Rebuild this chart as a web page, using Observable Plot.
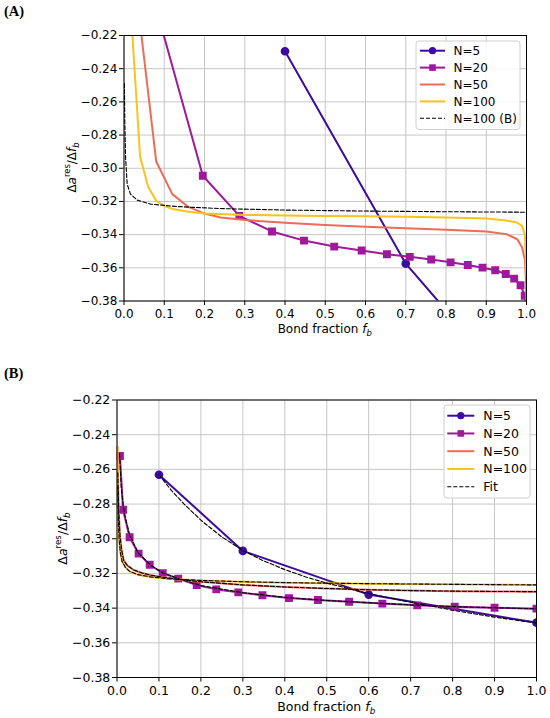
<!DOCTYPE html>
<html>
<head>
<meta charset="utf-8">
<script src="https://cdn.jsdelivr.net/npm/d3@7"></script>
<script src="https://cdn.jsdelivr.net/npm/@observablehq/plot@0.6"></script>
<style>
  html, body { margin: 0; padding: 0; background: white; }
  #wrap { position: relative; width: 550px; height: 718px; overflow: hidden; }
  #panelA { position: absolute; left: 0; top: 0; }
  #panelB { position: absolute; left: 0; top: 360px; }
</style>
</head>
<body>
<div id="wrap"><div id="panelA"></div><div id="panelB"></div></div>
<script>
// ---------- ticks ----------
const xTicks = [0, 0.1, 0.2, 0.3, 0.4, 0.5, 0.6, 0.7, 0.8, 0.9, 1.0];
const yTicks = [-0.22, -0.24, -0.26, -0.28, -0.30, -0.32, -0.34, -0.36, -0.38];

// ---------- colours ----------
const colN5 = "#3e0aa0", colN20 = "#a0189c", colN50 = "#ee6c55", colN100 = "#fcc21d";

// ---------- Panel A data ----------
const aN5x = [0.4, 0.7, 1.0];
const aN5y = [-0.2295, -0.3575, -0.4415];

const aN20x = [0.08, 0.1958, 0.2865, 0.3677, 0.4472, 0.5223, 0.5904, 0.6533, 0.71, 0.7633, 0.8114, 0.8541, 0.8908, 0.9223, 0.9485, 0.9694, 0.9852, 0.9956, 1.0];
const aN20y = [-0.2035, -0.3045, -0.3287, -0.3381, -0.3436, -0.3472, -0.3496, -0.3518, -0.3534, -0.3550, -0.3567, -0.3583, -0.3599, -0.3615, -0.3637, -0.3665, -0.3705, -0.3768, -0.3860];

const aN50x = [0.04, 0.08, 0.12, 0.16, 0.2, 0.24, 0.3, 0.4, 0.5, 0.6, 0.7, 0.8, 0.9, 0.95, 0.977, 0.989, 0.996, 0.999, 1.0];
const aN50y = [-0.2130, -0.2959, -0.3156, -0.3233, -0.3273, -0.3297, -0.3312, -0.3328, -0.3342, -0.3353, -0.3362, -0.3370, -0.3381, -0.3397, -0.3428, -0.3478, -0.3550, -0.3700, -0.4000];

const aN100x = [0.02, 0.04, 0.06, 0.08, 0.1, 0.12, 0.16, 0.2, 0.3, 0.4, 0.5, 0.6, 0.7, 0.8, 0.9, 0.95, 0.976, 0.989, 0.996, 1.0];
const aN100y = [-0.2165, -0.2931, -0.3112, -0.3196, -0.3228, -0.3245, -0.3262, -0.3272, -0.3281, -0.3285, -0.3288, -0.3290, -0.3293, -0.3297, -0.3303, -0.3315, -0.3327, -0.3347, -0.3400, -0.3650];

const aN100Bx = [0.001, 0.002, 0.004, 0.008, 0.016, 0.033, 0.066, 0.132, 0.24, 0.4, 0.6, 0.8, 1.0];
const aN100By = [-0.249, -0.272, -0.294, -0.3096, -0.3156, -0.3192, -0.3216, -0.3231, -0.3243, -0.3252, -0.3258, -0.3262, -0.3265];

// ---------- Panel B data ----------
const bN5x = [0.1, 0.3, 0.6, 1.0];
const bN5y = [-0.2631, -0.3070, -0.3322, -0.3484];

const bN20x = [0.007, 0.0145, 0.030, 0.0515, 0.078, 0.109, 0.146, 0.19, 0.2367, 0.2892, 0.3467, 0.41, 0.479, 0.5533, 0.6325, 0.7158, 0.805, 0.9, 1.0];
const bN20y = [-0.2523, -0.2833, -0.2991, -0.3086, -0.3150, -0.3199, -0.3230, -0.3267, -0.3292, -0.3309, -0.3326, -0.3342, -0.3353, -0.3363, -0.3374, -0.3384, -0.3392, -0.3398, -0.3403];

const bN50x = [0.001, 0.002, 0.004, 0.007, 0.011, 0.016, 0.025, 0.04, 0.06, 0.08, 0.11, 0.15, 0.2, 0.3, 0.4, 0.5, 0.6, 0.7, 0.8, 0.9, 1.0];
const bN50y = [-0.247, -0.262, -0.283, -0.298, -0.3065, -0.3125, -0.3155, -0.3180, -0.3198, -0.3210, -0.3222, -0.3235, -0.3248, -0.3266, -0.3278, -0.3287, -0.3294, -0.3299, -0.3302, -0.3304, -0.3305];

const bN100x = [0.001, 0.002, 0.003, 0.005, 0.008, 0.012, 0.02, 0.03, 0.05, 0.08, 0.12, 0.2, 0.3, 0.4, 0.6, 0.8, 1.0];
const bN100y = [-0.247, -0.270, -0.287, -0.300, -0.3080, -0.3130, -0.3165, -0.3188, -0.3207, -0.3220, -0.3230, -0.3240, -0.3248, -0.3253, -0.3259, -0.3263, -0.3266];

// fits (panel B)
const fitN5x = [0.1, 0.13, 0.16, 0.2, 0.25, 0.3, 0.35, 0.4, 0.45, 0.5, 0.6, 0.7, 0.8, 0.9, 1.0];
const fitN5y = [-0.2631, -0.2722, -0.2800, -0.2893, -0.2990, -0.3068, -0.3128, -0.3178, -0.3220, -0.3256, -0.3316, -0.3366, -0.3412, -0.3452, -0.3486];
const fitN20x = [0.006, 0.01, 0.015, 0.02, 0.03, 0.05, 0.08, 0.11, 0.15, 0.2, 0.3, 0.4, 0.5, 0.6, 0.7, 0.8, 0.9, 1.0];
const fitN20y = [-0.2510, -0.2700, -0.2810, -0.2880, -0.2975, -0.3080, -0.3152, -0.3197, -0.3233, -0.3270, -0.3311, -0.3338, -0.3356, -0.3369, -0.3381, -0.3391, -0.3398, -0.3404];
const fitN50x = [0.002, 0.004, 0.007, 0.011, 0.016, 0.025, 0.04, 0.06, 0.08, 0.11, 0.15, 0.2, 0.3, 0.4, 0.5, 0.6, 0.7, 0.8, 0.9, 1.0];
const fitN50y = [-0.262, -0.283, -0.298, -0.3065, -0.3125, -0.3155, -0.3180, -0.3198, -0.3210, -0.3222, -0.3235, -0.3248, -0.3266, -0.3278, -0.3287, -0.3294, -0.3299, -0.3302, -0.3304, -0.3305];
const fitN100x = [0.002, 0.003, 0.005, 0.008, 0.012, 0.02, 0.03, 0.05, 0.08, 0.12, 0.2, 0.3, 0.4, 0.6, 0.8, 1.0];
const fitN100y = [-0.270, -0.287, -0.300, -0.3080, -0.3130, -0.3165, -0.3188, -0.3207, -0.3220, -0.3230, -0.3240, -0.3248, -0.3253, -0.3259, -0.3263, -0.3266];

const pts = (xs, ys) => xs.map((x, i) => ({x, y: ys[i]}));

function axesMarks(xPad, yPad) {
  return [
    Plot.frame({stroke: "black", strokeWidth: 1}),
    Plot.axisX(xTicks, {tickSize: 4.5, tickPadding: xPad, tickFormat: d3.format(".1f"), label: null}),
    Plot.axisY(yTicks, {tickSize: 4.5, tickPadding: yPad, tickFormat: d3.format(".2f"), label: null})
  ];
}
function gridMarks() {
  return [
    Plot.gridX(xTicks, {stroke: "#c6c6c6", strokeOpacity: 1, strokeWidth: 1}),
    Plot.gridY(yTicks, {stroke: "#c6c6c6", strokeOpacity: 1, strokeWidth: 1})
  ];
}
const solid = (data, color) => Plot.line(data, {x: "x", y: "y", stroke: color, strokeWidth: 2, clip: true});
const dashed = (data) => Plot.line(data, {x: "x", y: "y", stroke: "black", strokeWidth: 1.1, strokeDasharray: "4,2", clip: true});
const circles = (data, color) => Plot.dot(data, {x: "x", y: "y", fill: color, stroke: color, r: 3.6, clip: true});
const squares = (data, color) => Plot.dot(data, {x: "x", y: "y", fill: color, stroke: color, r: 3.6, symbol: "square", clip: true});

function addLabels(svgNode, o) {
  const svg = d3.select(svgNode);
  const fam = "DejaVu Sans";
  // panel letter
  svg.append("text").attr("x", 4).attr("y", o.letterY).attr("text-anchor", "start")
    .attr("font-family", "Liberation Serif").attr("font-weight", "bold").attr("font-size", 14.5)
    .attr("fill", "black").text(o.letter);
  // y label
  const yl = svg.append("text").attr("transform", `translate(${o.ylX},${o.ylY}) rotate(-90)`)
    .attr("text-anchor", "middle").attr("font-family", fam).attr("font-size", o.fs).attr("fill", "black");
  yl.append("tspan").text("Δ");
  yl.append("tspan").attr("font-style", "italic").text("a");
  yl.append("tspan").attr("font-size", o.fs * 0.7).attr("dy", -o.fs * 0.42).text("res");
  yl.append("tspan").attr("dy", o.fs * 0.42).text("/Δ");
  yl.append("tspan").attr("font-style", "italic").text("f");
  yl.append("tspan").attr("font-style", "italic").attr("font-size", o.fs * 0.7).attr("dy", o.fs * 0.25).text("b");
  // x label
  const xl = svg.append("text").attr("x", o.xlX).attr("y", o.xlY)
    .attr("text-anchor", "middle").attr("font-family", fam).attr("font-size", o.fs).attr("fill", "black");
  xl.append("tspan").text("Bond fraction ");
  xl.append("tspan").attr("font-style", "italic").text("f");
  xl.append("tspan").attr("font-style", "italic").attr("font-size", o.fs * 0.7).attr("dy", o.fs * 0.25).text("b");
  // legend
  const L = o.legend;
  const g = svg.append("g").attr("text-anchor", "start");
  g.append("rect").attr("x", L.x0).attr("y", L.y0).attr("width", L.x1 - L.x0).attr("height", L.y1 - L.y0)
    .attr("rx", 3).attr("fill", "white").attr("fill-opacity", 0.85).attr("stroke", "#d0d0d0").attr("stroke-width", 1);
  L.items.forEach((it, i) => {
    const cy = L.rowY0 + i * L.dy;
    const line = g.append("line").attr("x1", L.sx0).attr("x2", L.sx1).attr("y1", cy).attr("y2", cy)
      .attr("stroke", it.color).attr("stroke-width", it.dash ? 1.1 : 2);
    if (it.dash) line.attr("stroke-dasharray", "4,2");
    const mx = (L.sx0 + L.sx1) / 2;
    if (it.marker === "circle") g.append("circle").attr("cx", mx).attr("cy", cy).attr("r", 3.6).attr("fill", it.color);
    if (it.marker === "square") g.append("rect").attr("x", mx - 3.3).attr("y", cy - 3.3).attr("width", 6.6).attr("height", 6.6).attr("fill", it.color);
    g.append("text").attr("x", L.tx).attr("y", cy).attr("dy", "0.36em").attr("text-anchor", "start")
      .attr("font-family", fam).attr("font-size", L.fs).attr("fill", "black").text(it.label);
  });
}

// ---------- Panel A ----------
const A5 = pts(aN5x, aN5y), A20 = pts(aN20x, aN20y), A50 = pts(aN50x, aN50y), A100 = pts(aN100x, aN100y), A100B = pts(aN100Bx, aN100By);
const plotA = Plot.plot({
  width: 550, height: 340,
  marginTop: 35, marginBottom: 39.5, marginLeft: 123.5, marginRight: 24,
  x: {domain: [0, 1]}, y: {domain: [-0.38, -0.22]},
  style: {fontFamily: "DejaVu Sans", fontSize: "12px", background: "white", color: "black", overflow: "visible"},
  marks: [
    ...gridMarks(),
    solid(A5, colN5), circles(A5, colN5),
    solid(A20, colN20), squares(A20, colN20),
    solid(A50, colN50),
    solid(A100, colN100),
    dashed(A100B),
    ...axesMarks(4.3, 2.1)
  ]
});
document.getElementById("panelA").appendChild(plotA);
addLabels(plotA, {
  letter: "(A)", letterY: 16, fs: 12,
  ylX: 75.5, ylY: 167.5, xlX: 324.7, xlY: 333,
  legend: {x0: 416, x1: 520, y0: 41, y1: 129.5, rowY0: 50.7, dy: 16.9, sx0: 420, sx1: 445, tx: 453.5, fs: 12,
    items: [
      {label: "N=5", color: colN5, marker: "circle"},
      {label: "N=20", color: colN20, marker: "square"},
      {label: "N=50", color: colN50},
      {label: "N=100", color: colN100},
      {label: "N=100 (B)", color: "black", dash: true}
    ]}
});

// ---------- Panel B ----------
const B5 = pts(bN5x, bN5y), B20 = pts(bN20x, bN20y), B50 = pts(bN50x, bN50y), B100 = pts(bN100x, bN100y);
const plotB = Plot.plot({
  width: 550, height: 358,
  marginTop: 39.5, marginBottom: 41, marginLeft: 116.5, marginRight: 14,
  x: {domain: [0, 1]}, y: {domain: [-0.38, -0.22]},
  style: {fontFamily: "DejaVu Sans", fontSize: "12.5px", background: "white", color: "black", overflow: "visible"},
  marks: [
    ...gridMarks(),
    solid(B5, colN5), circles(B5, colN5),
    solid(B20, colN20), squares(B20, colN20),
    solid(B50, colN50),
    solid(B100, colN100),
    dashed(pts(fitN5x, fitN5y)),
    dashed(pts(fitN20x, fitN20y)),
    dashed(pts(fitN50x, fitN50y)),
    dashed(pts(fitN100x, fitN100y)),
    ...axesMarks(4.5, 2.2)
  ]
});
document.getElementById("panelB").appendChild(plotB);
addLabels(plotB, {
  letter: "(B)", letterY: 18, fs: 12.5,
  ylX: 66.5, ylY: 178.5, xlX: 326.2, xlY: 350.8,
  legend: {x0: 444, x1: 530, y0: 45, y1: 138, rowY0: 55.7, dy: 17.75, sx0: 447.3, sx1: 474.3, tx: 483.3, fs: 12.5,
    items: [
      {label: "N=5", color: colN5, marker: "circle"},
      {label: "N=20", color: colN20, marker: "square"},
      {label: "N=50", color: colN50},
      {label: "N=100", color: colN100},
      {label: "Fit", color: "black", dash: true}
    ]}
});
</script>
</body>
</html>
